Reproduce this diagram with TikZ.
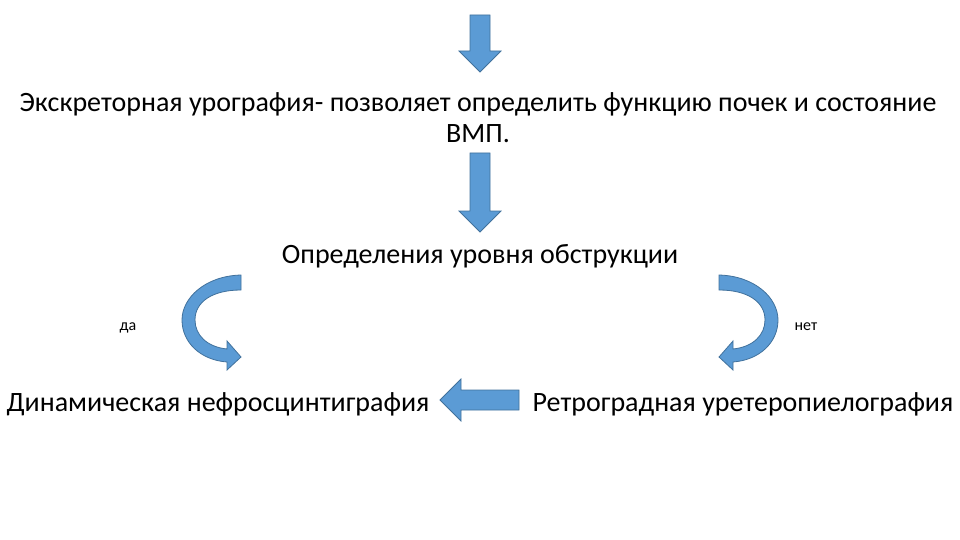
\documentclass[tikz,border=0pt]{standalone}
\usepackage{fontspec}
\setmainfont{Carlito}
\usetikzlibrary{calc}
\definecolor{arrfill}{RGB}{91,155,213}
\definecolor{arrline}{RGB}{65,113,156}

\tikzset{
  arrbody/.style={fill=arrfill, draw=arrline, line width=0.8pt},
  bigtext/.style={font=\fontsize{28}{31}\selectfont, inner sep=0pt, anchor=base},
  smalltext/.style={font=\fontsize{16}{19}\selectfont, inner sep=0pt, anchor=base},
  % straight block arrow, #1 = length
  pics/blockarr/.style={code={
    \draw[arrbody] (0,-10) -- (#1-21,-10) -- (#1-21,-21) -- (#1,0)
      -- (#1-21,21) -- (#1-21,10) -- (0,10) -- cycle;
  }},
  % bent arrow, starts at its upper end
  pics/bentarr/.style={code={
    \draw[arrbody] (0,0) .. controls (-36,1) and (-59,23) .. (-59,45)
      .. controls (-59,67) and (-41,85) .. (-14,87) -- (-14,95) -- (0,82)
      -- (-14,66) -- (-14,74) .. controls (-34,72) and (-46,60) .. (-46,45)
      .. controls (-46,27) and (-29,15) .. (0,15) -- cycle;
  }}
}

\begin{document}
\begin{tikzpicture}[x=1pt, y=-1pt]
\useasboundingbox (0,0) rectangle (960,540);

% texts
\node[bigtext, align=center] (exu) at (478,143)
  {Экскреторная урография- позволяет определить функцию почек и состояние\\ВМП.};
\node[bigtext] (obstr) at (480,263) {Определения уровня обструкции};
\node[bigtext] (dyn) at (218,411) {Динамическая нефросцинтиграфия};
\node[bigtext] (retro) at (743,411) {Ретроградная уретеропиелография};
\node[smalltext] (yes) at (128,330) {да};
\node[smalltext] (no) at (806,330) {нет};

% arrows
\pic[rotate=-90] (topArr) at (480,15) {blockarr=57};
\pic[rotate=-90] (midArr) at (480,153) {blockarr=79};
\pic[rotate=180] (leftArr) at (519,400) {blockarr=79};
\pic (yesArr) at (241,275) {bentarr};
\pic[xscale=-1] (noArr) at (719,275) {bentarr};
\end{tikzpicture}
\end{document}
